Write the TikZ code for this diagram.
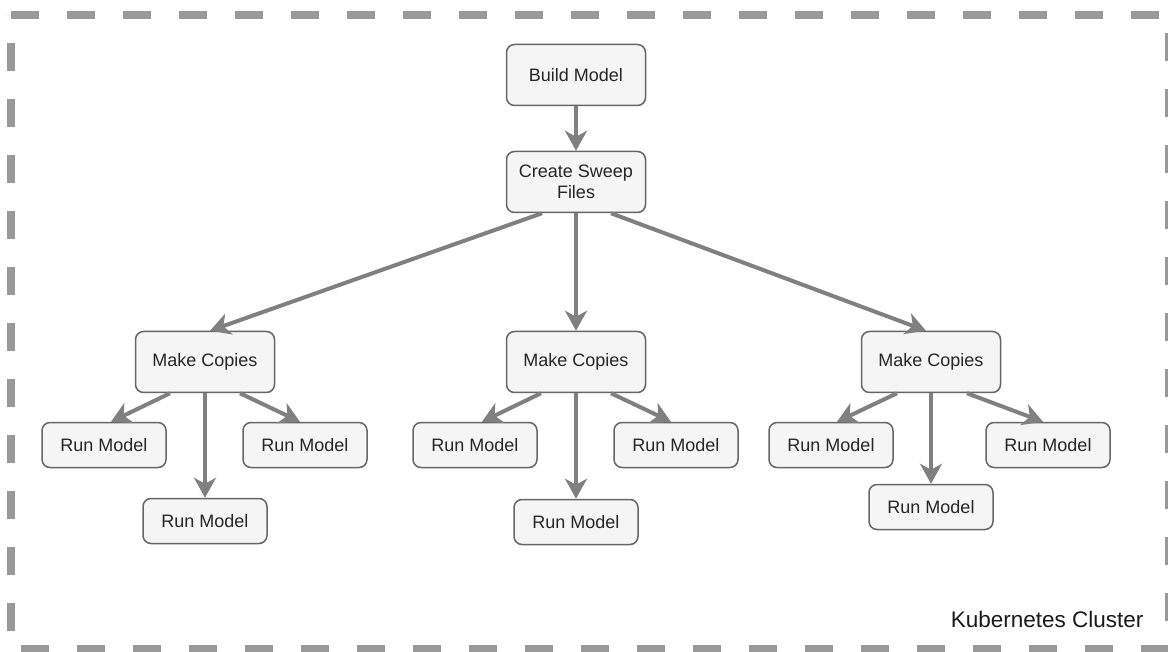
\documentclass[tikz,border=0pt]{standalone}
\usepackage{fontspec}
\setmainfont{Liberation Sans}
\usetikzlibrary{arrows.meta}
\tikzset{>={Stealth[length=20pt,width=22pt,inset=6pt]}}
\tikzset{
  box/.style={draw=black!60, fill=black!4, line width=1.5pt,
    rounded corners=8pt, minimum width=139pt, minimum height=61pt,
    inner sep=0pt, align=center, text=black!85,
    font=\fontsize{18}{21}\selectfont},
  runbox/.style={box, minimum width=124pt, minimum height=45pt},
  flow/.style={->, draw=black!50, line width=4pt},
}

\begin{document}
\begin{tikzpicture}[x=1pt,y=-1pt]
      \useasboundingbox (0,0) rectangle (1168,652);
      % cluster border
      \draw[black!40, line width=8pt, dash pattern=on 28pt off 28pt]
           (11,15) -- (1169,15) -- (1169,649) -- (11,649) -- cycle;
      \node[anchor=base east, font=\fontsize{22.5}{26}\selectfont,
            text=black!90] (cluster) at (1147,627) {Kubernetes Cluster};

      \node[box] (build) at (576,75) {Build Model};
      \node[box] (sweep) at (576,182) {Create Sweep\\Files};
      \node[box] (copyA) at (205,362) {Make Copies};
      \node[box] (copyB) at (576,362) {Make Copies};
      \node[box] (copyC) at (931,362) {Make Copies};

      \node[runbox] (runA1) at (104,445) {Run Model};
      \node[runbox] (runA2) at (205,521) {Run Model};
      \node[runbox] (runA3) at (305,445) {Run Model};
      \node[runbox] (runB1) at (475,445) {Run Model};
      \node[runbox] (runB2) at (576,522) {Run Model};
      \node[runbox] (runB3) at (676,445) {Run Model};
      \node[runbox] (runC1) at (831,445) {Run Model};
      \node[runbox] (runC2) at (931,507) {Run Model};
      \node[runbox] (runC3) at (1048,445) {Run Model};

      \draw[flow] (build) -- (sweep);
      \draw[flow] ([xshift=-34pt]sweep.south) -- ([xshift=5pt]copyA.north);
      \draw[flow] (sweep) -- (copyB);
      \draw[flow] ([xshift=35pt]sweep.south) -- ([xshift=-5pt]copyC.north);

      \draw[flow] ([xshift=-35pt]copyA.south) -- ([xshift=7pt]runA1.north);
      \draw[flow] (copyA) -- (runA2);
      \draw[flow] ([xshift=35pt]copyA.south) -- ([xshift=-5pt]runA3.north);
      \draw[flow] ([xshift=-35pt]copyB.south) -- ([xshift=7pt]runB1.north);
      \draw[flow] (copyB) -- (runB2);
      \draw[flow] ([xshift=35pt]copyB.south) -- ([xshift=-5pt]runB3.north);
      \draw[flow] ([xshift=-34pt]copyC.south) -- ([xshift=6pt]runC1.north);
      \draw[flow] (copyC) -- (runC2);
      \draw[flow] ([xshift=36pt]copyC.south) -- ([xshift=-5pt]runC3.north);
    \end{tikzpicture}
\end{document}
